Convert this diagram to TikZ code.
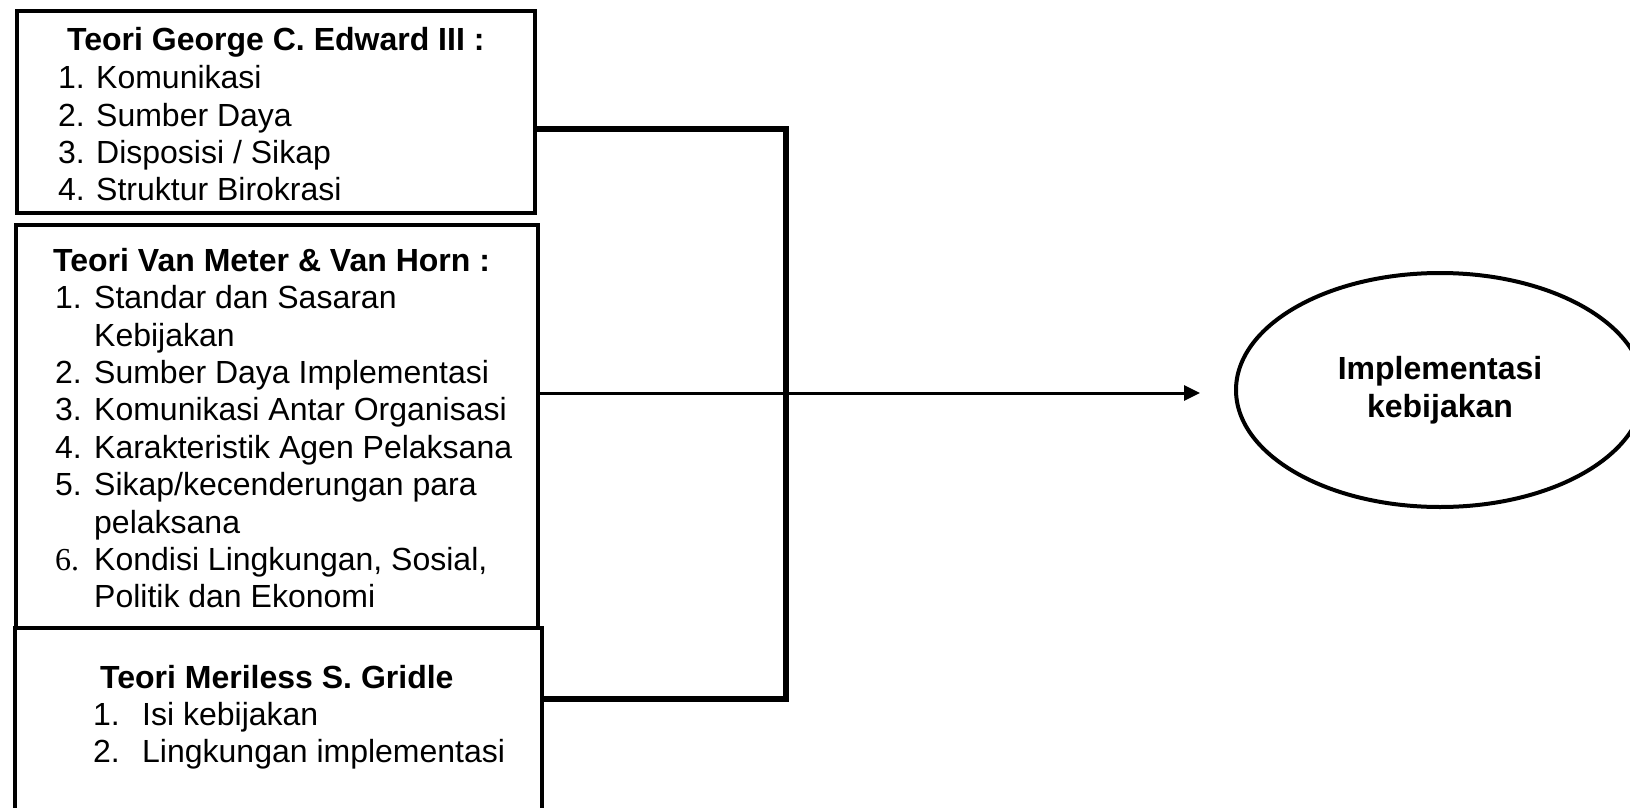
\documentclass[tikz,border=0pt]{standalone}
\usepackage{fontspec}
\setmainfont{Liberation Sans}
\newfontfamily\numserif{Liberation Serif}
\usetikzlibrary{shapes.geometric,arrows.meta}
\begin{document}
\begin{tikzpicture}[x=1pt,y=-1pt,
  box/.style={draw, line width=4pt, rectangle, anchor=north west, inner sep=0pt},
  txt/.style={anchor=base west, inner sep=0pt, font=\fontsize{32}{37.4}\selectfont},
  ttl/.style={anchor=base west, inner sep=0pt, font=\fontsize{32}{37.4}\selectfont\bfseries},
  bracket/.style={line width=6pt, line join=miter},
  arr/.style={line width=3pt, -{Triangle[length=16pt,width=15pt]}},
  oval/.style={ellipse, draw, line width=4pt, inner sep=0pt, align=center,
    font=\fontsize{32}{38.5}\selectfont\bfseries}]
\useasboundingbox (0,0) rectangle (1630,808);
% boxes
\node[box, minimum width=518pt, minimum height=202pt] (b1) at (15,9) {};
\node[box, minimum width=522pt, minimum height=403pt] (b2) at (14,223) {};
\node[box, minimum width=527pt, minimum height=220pt] (b3) at (13,626) {};
% box 1 text
\node[ttl] (t1) at (67,51) {Teori George C. Edward III :};
\node[txt] (n11) at (58,88.5) {1.}; \node[txt] (i11) at (96,88.5) {Komunikasi};
\node[txt] (n12) at (58,126) {2.};  \node[txt] (i12) at (96,126) {Sumber Daya};
\node[txt] (n13) at (58,163) {3.};  \node[txt] (i13) at (96,163) {Disposisi / Sikap};
\node[txt] (n14) at (58,200.5) {4.};\node[txt] (i14) at (96,200.5) {Struktur Birokrasi};
% box 2 text
\node[ttl] (t2) at (53,271) {Teori Van Meter \& Van Horn :};
\node[txt] (n21) at (55,308.5) {1.}; \node[txt] (i21) at (94,308.5) {Standar dan Sasaran};
\node[txt] (i21b) at (94,346) {Kebijakan};
\node[txt] (n22) at (55,383) {2.};   \node[txt] (i22) at (94,383) {Sumber Daya Implementasi};
\node[txt] (n23) at (55,420.5) {3.}; \node[txt] (i23) at (94,420.5) {Komunikasi Antar Organisasi};
\node[txt] (n24) at (55,458) {4.};   \node[txt] (i24) at (94,458) {Karakteristik Agen Pelaksana};
\node[txt] (n25) at (55,495.5) {5.}; \node[txt] (i25) at (94,495.5) {Sikap/kecenderungan para};
\node[txt] (i25b) at (94,533) {pelaksana};
\node[txt] (n26) at (55,570) {\numserif 6.}; \node[txt] (i26) at (94,570) {Kondisi Lingkungan, Sosial,};
\node[txt] (i26b) at (94,607.5) {Politik dan Ekonomi};
% box 3 text
\node[ttl] (t3) at (100,688) {Teori Meriless S. Gridle};
\node[txt] (n31) at (93,725) {1.}; \node[txt] (i31) at (142,725) {Isi kebijakan};
\node[txt] (n32) at (93,762) {2.}; \node[txt] (i32) at (142,762) {Lingkungan implementasi};
% ellipse
\node[oval, minimum width=408pt, minimum height=234pt] (ell) at (1440,390) {Implementasi\\kebijakan};
% bracket
\coordinate (jt) at (786,129);
\coordinate (jb) at (786,699);
\draw[bracket] (b1.east |- jt) -- (jt) -- (jb) -- (b3.east |- jb);
% arrow
\coordinate (as) at (540,393);
\draw[arr] (b2.east |- as) -- ([xshift=-34pt]ell.west |- as);
\end{tikzpicture}
\end{document}
